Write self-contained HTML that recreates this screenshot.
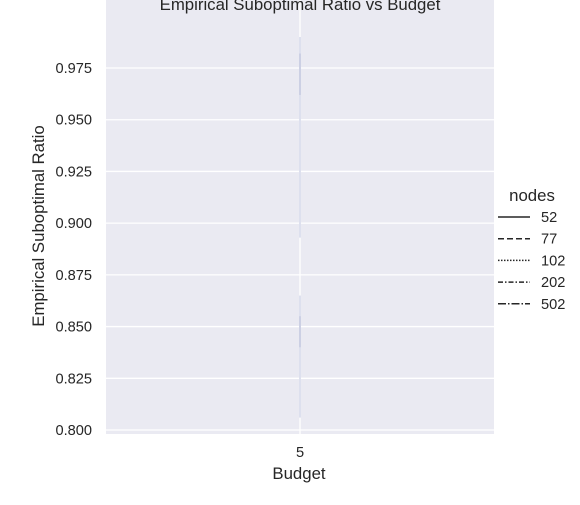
<!DOCTYPE html>
<html><head><meta charset="utf-8"><style>
body{margin:0;background:#fff;font-family:"Liberation Sans",sans-serif}
svg text{font-family:"Liberation Sans",sans-serif;fill:#262626}
</style></head><body>
<svg id="c" width="580" height="500">
<rect x="106" y="-5" width="388" height="439" fill="#eaeaf2"/>
<g id="grid"></g><g id="marks"></g><g id="ticks"></g>
<text x="300" y="10" text-anchor="middle" font-size="16.8">Empirical Suboptimal Ratio vs Budget</text>
<text x="299" y="479" text-anchor="middle" font-size="16.8">Budget</text>
<text transform="translate(44,226) rotate(-90)" text-anchor="middle" font-size="16.8">Empirical Suboptimal Ratio</text>
<g id="legend"></g>
</svg>
<script>
const categories=["5"];
const yTicks=[0.800,0.825,0.850,0.875,0.900,0.925,0.950,0.975];
const bandLow=[0.893,0.806];
const bandHigh=[0.990,0.865];
const coreLow=[0.962,0.840];
const coreHigh=[0.982,0.855];
const legendLabels=["52","77","102","202","502"];
const dashes=["","6,3","1.5,1.5","5,2,1.5,2","8,2,1.5,2"];
const ns="http://www.w3.org/2000/svg";
function y(v){return 430-(v-0.8)/0.025*51.71;}
function x(i){return 300+i*0;}
function mk(t,a,p){const e=document.createElementNS(ns,t);for(const k in a)e.setAttribute(k,a[k]);(p||document.getElementById('c')).appendChild(e);return e;}
const grid=document.getElementById('grid'),ticks=document.getElementById('ticks'),marks=document.getElementById('marks');
yTicks.forEach(v=>{
 const l=mk('line',{x1:106,x2:494,y1:y(v),y2:y(v),stroke:'#fff','stroke-width':1.3},grid);
 
 
 const t=mk('text',{x:92,y:y(v)+5,'text-anchor':'end','font-size':14.6},ticks);t.textContent=v.toFixed(3);
 
 
});
categories.forEach((c,i)=>{
 const l=mk('line',{x1:x(i),x2:x(i),y1:-5,y2:434,stroke:'#fff','stroke-width':1.3},grid);
 
 
 const t=mk('text',{x:x(i),y:457,'text-anchor':'middle','font-size':14.6},ticks);t.textContent=c;
 
 
});
bandLow.forEach((lo,i)=>{
 const b=mk('line',{x1:300,x2:300,y1:y(bandHigh[i]),y2:y(lo),stroke:'#dde0ee','stroke-width':2},marks);
 
 
 const c=mk('line',{x1:300,x2:300,y1:y(coreHigh[i]),y2:y(coreLow[i]),stroke:'#c6cae0','stroke-width':1.5},marks);
 
 
});
const lg=document.getElementById('legend');
const h=mk('text',{x:532,y:201,'text-anchor':'middle','font-size':16.8},lg);h.textContent="nodes";


legendLabels.forEach((s,i)=>{
 const yy=217+i*21.7;
 const l=mk('line',{x1:498,x2:530,y1:yy,y2:yy,stroke:'#262626','stroke-width':1.5,'stroke-dasharray':dashes[i]},lg);
 
 
 const t=mk('text',{x:541,y:yy+5,'font-size':14.6},lg);t.textContent=s;
 
 
});
</script>
</body></html>
